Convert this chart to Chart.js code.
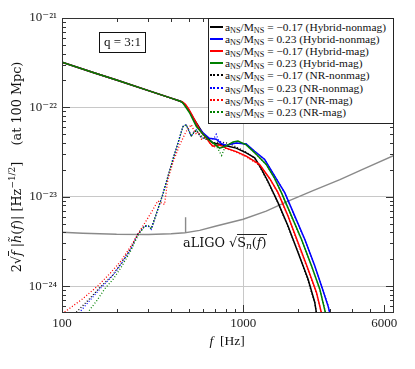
<!DOCTYPE html>
<html>
<head>
<meta charset="utf-8">
<script src="https://cdn.jsdelivr.net/npm/chart.js@4.4.0/dist/chart.umd.min.js"></script>
<style>
  body { margin: 0; background: #fff; }
  #wrap { position: relative; width: 415px; height: 369px; font-family: "Liberation Serif", "DejaVu Serif", serif; color: #111; }
  #wrap canvas { position: absolute; left: 0; top: 0; }
  .ov { position: absolute; white-space: nowrap; }
  #legend { left: 208px; top: 18px; width: 186px; height: 106px; background: #fff; border: 1px solid #222; box-sizing: border-box; padding: 2px 0 0 1px; font-size: 11.4px; }
  .item { height: 12.1px; display: flex; align-items: center; }
  .swatch { width: 13px; height: 0; margin-right: 2px; border-top-width: 2px; }
  sub { font-size: 72%; vertical-align: -2px; line-height: 0; }
  sup { font-size: 70%; vertical-align: 6px; line-height: 0; }
  #qbox { left: 99px; top: 32px; width: 47px; height: 21px; border: 1.5px solid #111; box-sizing: border-box; font-size: 13px; text-align: center; line-height: 18px; }
  #aligo { left: 183px; top: 235px; font-size: 12.8px; font-family: "DejaVu Serif", serif; }
  .ol { border-top: 1px solid #222; }
  #ytitle { left: -132px; top: 158px; width: 300px; height: 18px; font-size: 12.8px; font-family: "DejaVu Serif", serif; text-align: center; transform: rotate(-90deg); }
  #xtitle { left: 177px; top: 333px; width: 100px; font-size: 13.5px; text-align: center; }
</style>
</head>
<body>
<div id="wrap">
  <canvas id="specChart" width="415" height="369"></canvas>
  <div class="ov" id="ytitle">2√<span class="ol"><i>f</i></span> |<i>h̃</i>(<i>f</i>)| [Hz<sup>−1/2</sup>]&nbsp;&nbsp;&nbsp;&nbsp;(at 100 Mpc)</div>
  <div class="ov" id="xtitle"><i>f</i>&nbsp;&nbsp;[Hz]</div>
  <div class="ov" id="qbox">q = 3:1</div>
  <div class="ov" id="aligo">aLIGO √<span class="ol">S<sub><i>n</i></sub>(<i>f</i>)</span></div>
  <div class="ov" id="legend"></div>
</div>
<script>
// axis ticks
const xTicks = [100, 1000, 6000];
const yTicks = [1e-24, 1e-23, 1e-22, 1e-21];

// legend text parts
const spins = ['−0.17', '0.23', '−0.17', '0.23', '−0.17', '0.23', '−0.17', '0.23'];
const models = ['Hybrid-nonmag', 'Hybrid-nonmag', 'Hybrid-mag', 'Hybrid-mag', 'NR-nonmag', 'NR-nonmag', 'NR-mag', 'NR-mag'];

// [f (Hz), 2 sqrt(f) |h(f)|]
const inspiral = [[100, 3.2e-22], [150, 2.44e-22], [200, 2.02e-22], [300, 1.54e-22], [400, 1.27e-22], [450, 1.17e-22]];

const hybNonmagNeg = [[460, 1.15e-22], [480, 1.05e-22], [505, 9.0e-23], [530, 7.6e-23], [560, 6.4e-23], [600, 5.1e-23], [640, 4.5e-23], [681, 4.0e-23], [730, 3.9e-23], [773, 3.8e-23], [840, 3.65e-23], [915, 3.5e-23], [1040, 3.1e-23], [1158, 2.73e-23], [1260, 2.05e-23], [1371, 1.48e-23], [1557, 8.6e-24], [1768, 4.71e-24], [2008, 2.38e-24], [2280, 1.2e-24], [2483, 6.6e-25], [2538, 5.0e-25], [2560, 4.5e-25]];
const hybNonmagPos = [[465, 1.13e-22], [490, 1.0e-22], [520, 8.2e-23], [552, 6.3e-23], [600, 5.2e-23], [650, 4.5e-23], [710, 4.4e-23], [760, 3.9e-23], [806, 3.75e-23], [860, 3.9e-23], [915, 4.0e-23], [1040, 3.9e-23], [1158, 3.23e-23], [1315, 2.61e-23], [1493, 1.7e-23], [1696, 1.11e-23], [1925, 6.1e-24], [2187, 3.35e-24], [2483, 1.69e-24], [2704, 1.01e-24], [2941, 6.0e-25], [3006, 5.0e-25], [3050, 4.5e-25]];
const hybMagNeg = [[460, 1.16e-22], [480, 1.08e-22], [500, 9.6e-23], [528, 7.9e-23], [555, 6.5e-23], [575, 5.6e-23], [600, 5.0e-23], [625, 4.6e-23], [655, 4.0e-23], [681, 3.67e-23], [710, 3.75e-23], [741, 3.8e-23], [806, 3.5e-23], [915, 3.2e-23], [1040, 2.85e-23], [1230, 2.3e-23], [1400, 1.6e-23], [1557, 1.11e-23], [1768, 6.1e-24], [2008, 3.08e-24], [2280, 1.55e-24], [2538, 8.5e-25], [2704, 5.0e-25], [2750, 4.5e-25]];
const hybMagPos = [[465, 1.12e-22], [490, 9.6e-23], [506, 8.7e-23], [530, 7.2e-23], [552, 6.1e-23], [600, 5.0e-23], [640, 4.4e-23], [681, 4.0e-23], [741, 3.5e-23], [790, 3.65e-23], [824, 3.8e-23], [880, 4.1e-23], [935, 4.2e-23], [1040, 3.8e-23], [1185, 2.97e-23], [1340, 2.3e-23], [1480, 1.65e-23], [1626, 1.11e-23], [1847, 6.1e-24], [2097, 3.35e-24], [2382, 1.69e-24], [2647, 9.3e-25], [2846, 5.0e-25], [2900, 4.5e-25]];

const nrNonmagNeg = [[110, 4.4e-25], [120, 5.1e-25], [140, 7.0e-25], [163, 9.8e-25], [190, 1.32e-24], [212, 1.8e-24], [240, 2.65e-24], [262, 3.8e-24], [286, 4.7e-24], [300, 4.7e-24], [311, 4.4e-24], [338, 7.3e-24], [360, 1.06e-23], [385, 1.7e-23], [409, 2.6e-23], [437, 4.0e-23], [465, 6.1e-23], [485, 6.3e-23], [500, 5.5e-23], [517, 4.8e-23], [535, 5.2e-23], [552, 5.5e-23], [570, 5.0e-23], [600, 4.7e-23], [640, 4.4e-23], [681, 4.0e-23], [740, 4.1e-23], [806, 4.0e-23], [870, 3.8e-23], [915, 3.6e-23], [1040, 3.15e-23], [1158, 2.7e-23], [1260, 2.0e-23], [1371, 1.45e-23], [1557, 8.5e-24], [1768, 4.6e-24], [2008, 2.4e-24], [2280, 1.15e-24], [2483, 6.5e-25], [2560, 4.4e-25]];
const nrNonmagPos = [[115, 4.2e-25], [125, 5.1e-25], [145, 7.2e-25], [165, 9.7e-25], [190, 1.3e-24], [212, 1.76e-24], [240, 2.6e-24], [262, 3.81e-24], [286, 4.71e-24], [300, 4.7e-24], [311, 4.33e-24], [338, 7.2e-24], [360, 1.06e-23], [385, 1.7e-23], [409, 2.6e-23], [437, 4.0e-23], [465, 6.1e-23], [485, 6.4e-23], [500, 5.6e-23], [517, 4.75e-23], [535, 5.3e-23], [552, 5.6e-23], [570, 5.0e-23], [588, 4.6e-23], [625, 4.4e-23], [660, 4.4e-23], [690, 4.5e-23], [710, 5.0e-23], [730, 4.3e-23], [806, 3.75e-23], [915, 4.0e-23], [1040, 3.9e-23], [1158, 3.2e-23], [1315, 2.6e-23], [1493, 1.7e-23], [1696, 1.1e-23], [1925, 6.0e-24], [2187, 3.3e-24], [2483, 1.7e-24], [2704, 1.0e-24], [2941, 6.1e-25], [3060, 4.4e-25]];
const nrMagNeg = [[95, 4.4e-25], [103, 5.1e-25], [130, 7.2e-25], [158, 1.01e-24], [185, 1.4e-24], [212, 1.92e-24], [240, 2.8e-24], [262, 3.81e-24], [285, 5.0e-24], [311, 6.65e-24], [338, 8.96e-24], [355, 8.5e-24], [368, 8.2e-24], [384, 1.56e-23], [409, 2.4e-23], [446, 3.8e-23], [485, 5.4e-23], [517, 6.4e-23], [535, 5.5e-23], [552, 5.0e-23], [570, 5.3e-23], [588, 4.4e-23], [625, 4.6e-23], [655, 4.0e-23], [681, 3.6e-23], [741, 3.75e-23], [806, 3.45e-23], [915, 3.15e-23], [1040, 2.8e-23], [1230, 2.25e-23], [1400, 1.6e-23], [1557, 1.1e-23], [1768, 6.0e-24], [2008, 3.0e-24], [2280, 1.5e-24], [2538, 8.3e-25], [2750, 4.4e-25]];
const nrMagPos = [[128, 4.2e-25], [139, 5.1e-25], [155, 6.8e-25], [172, 9.3e-25], [192, 1.2e-24], [212, 1.62e-24], [240, 2.5e-24], [262, 3.65e-24], [286, 4.71e-24], [300, 4.7e-24], [311, 4.33e-24], [338, 7.2e-24], [360, 1.06e-23], [385, 1.7e-23], [409, 2.6e-23], [437, 4.0e-23], [465, 6.1e-23], [485, 6.4e-23], [500, 5.6e-23], [517, 4.75e-23], [535, 5.3e-23], [552, 5.6e-23], [570, 5.0e-23], [588, 4.6e-23], [625, 4.4e-23], [660, 4.2e-23], [700, 3.9e-23], [760, 2.9e-23], [790, 3.5e-23], [824, 3.8e-23], [935, 4.2e-23], [1040, 3.8e-23], [1185, 2.95e-23], [1340, 2.3e-23], [1480, 1.65e-23], [1626, 1.1e-23], [1847, 6.0e-24], [2097, 3.3e-24], [2382, 1.7e-24], [2647, 9.2e-25], [2900, 4.4e-25]];

const aligo = [[100, 4.0e-24], [130, 3.9e-24], [200, 3.8e-24], [300, 3.78e-24], [400, 3.85e-24], [478, 3.95e-24], [480, 5.9e-24], [482, 3.96e-24], [575, 4.2e-24], [710, 4.7e-24], [1000, 5.6e-24], [1340, 6.9e-24], [1785, 9.0e-24], [2430, 1.17e-23], [3420, 1.55e-23], [4500, 2.0e-23], [6800, 2.9e-23]];

const seriesList = [
  inspiral.concat(hybNonmagNeg), inspiral.concat(hybNonmagPos),
  inspiral.concat(hybMagNeg), inspiral.concat(hybMagPos),
  nrNonmagNeg, nrNonmagPos, nrMagNeg, nrMagPos
];
const lineColors = ['#000000', '#0000ff', '#ff0000', '#008000', '#000000', '#0000ff', '#ff0000', '#008000'];
// lower order is painted on top: green hybrid over red over blue over black, NR below
const drawOrder = [3, 2, 1, 0, 7, 6, 5, 4];

const toPoints = arr => arr.map(([x, y]) => ({ x, y }));

const datasets = seriesList.map((s, i) => ({
  label: 'aNS/MNS = ' + spins[i] + ' (' + models[i] + ')',
  data: toPoints(s),
  borderColor: lineColors[i],
  borderWidth: i < 4 ? 1.5 : 1.3,
  borderDash: i < 4 ? [] : [1, 2],
  pointRadius: 0,
  showLine: true,
  tension: 0,
  order: drawOrder[i]
}));
datasets.push({
  label: 'aLIGO',
  data: toPoints(aligo),
  borderColor: '#8a8a8a',
  borderWidth: 1.4,
  pointRadius: 0,
  showLine: true,
  order: 9
});

// legend in html so we can use subscripts
const legendEl = document.getElementById('legend');
for (let i = 0; i < 8; i++) {
  const row = document.createElement('div');
  row.className = 'item';
  const sw = document.createElement('span');
  sw.className = 'swatch';
  sw.style.borderTopStyle = i < 4 ? 'solid' : 'dotted';
  sw.style.borderTopColor = lineColors[i];
  const txt = document.createElement('span');
  txt.innerHTML = 'a<sub>NS</sub>/M<sub>NS</sub> = ' + spins[i] + ' (' + models[i] + ')';
  row.appendChild(sw);
  row.appendChild(txt);
  legendEl.appendChild(row);
}

const supMap = { '-': '⁻', '0': '⁰', '1': '¹', '2': '²', '3': '³', '4': '⁴', '5': '⁵', '6': '⁶', '7': '⁷', '8': '⁸', '9': '⁹' };
const powLabel = v => '10' + String(Math.round(Math.log10(v))).split('').map(c => supMap[c]).join('');

// inward minor/major ticks on all four sides plus the frame
const frameTicks = {
  id: 'frameTicks',
  afterDraw(chart) {
    const { ctx, chartArea: a, scales: { x, y } } = chart;
    ctx.save();
    ctx.strokeStyle = '#333';
    ctx.lineWidth = 1;
    ctx.beginPath();
    for (let d = 100; d <= 1000; d *= 10) {
      for (let m = 1; m < 10; m++) {
        const v = d * m;
        if (v <= x.min || v > x.max) continue;
        const px = Math.round(x.getPixelForValue(v)) + 0.5;
        const len = xTicks.includes(v) ? 8 : 4;
        ctx.moveTo(px, a.bottom); ctx.lineTo(px, a.bottom - len);
        ctx.moveTo(px, a.top); ctx.lineTo(px, a.top + len);
      }
    }
    for (let k = -25; k <= -22; k++) {
      for (let m = 1; m < 10; m++) {
        const v = m * Math.pow(10, k);
        if (v < y.min * 1.001 || v > y.max * 0.999) continue;
        const py = Math.round(y.getPixelForValue(v)) + 0.5;
        const len = m === 1 ? 8 : 4;
        ctx.moveTo(a.left, py); ctx.lineTo(a.left + len, py);
        ctx.moveTo(a.right, py); ctx.lineTo(a.right - len, py);
      }
    }
    ctx.stroke();
    ctx.strokeRect(Math.round(a.left) + 0.5, Math.round(a.top) + 0.5, Math.round(a.width) - 1, Math.round(a.height) - 1);
    ctx.restore();
  }
};

const tickFont = { family: '"Liberation Serif", "DejaVu Serif", serif', size: 13 };

new Chart(document.getElementById('specChart'), {
  type: 'scatter',
  data: { datasets },
  options: {
    responsive: false,
    animation: false,
    layout: { padding: { top: 18, right: 21, left: 0, bottom: 0 } },
    plugins: { legend: { display: false }, tooltip: { enabled: false } },
    scales: {
      x: {
        type: 'logarithmic',
        min: 100,
        max: 6800,
        afterBuildTicks: scale => { scale.ticks = xTicks.map(v => ({ value: v })); },
        afterFit: scale => { scale.height = 56; },
        ticks: { autoSkip: false, maxRotation: 0, padding: 3, color: '#222', font: tickFont, callback: v => String(v) },
        grid: { drawTicks: false, color: c => (c.tick && c.tick.value === 1000 ? '#c8c8c8' : 'rgba(0,0,0,0)') },
        border: { display: false }
      },
      y: {
        type: 'logarithmic',
        min: 5e-25,
        max: 1e-21,
        afterBuildTicks: scale => { scale.ticks = yTicks.map(v => ({ value: v })); },
        afterFit: scale => { scale.width = 62; },
        ticks: { autoSkip: false, padding: 5, color: '#222', font: tickFont, callback: v => powLabel(v) },
        grid: { drawTicks: false, color: c => (c.tick && c.tick.value < 5e-22 ? '#c8c8c8' : 'rgba(0,0,0,0)') },
        border: { display: false }
      }
    }
  },
  plugins: [frameTicks]
});
</script>
</body>
</html>
